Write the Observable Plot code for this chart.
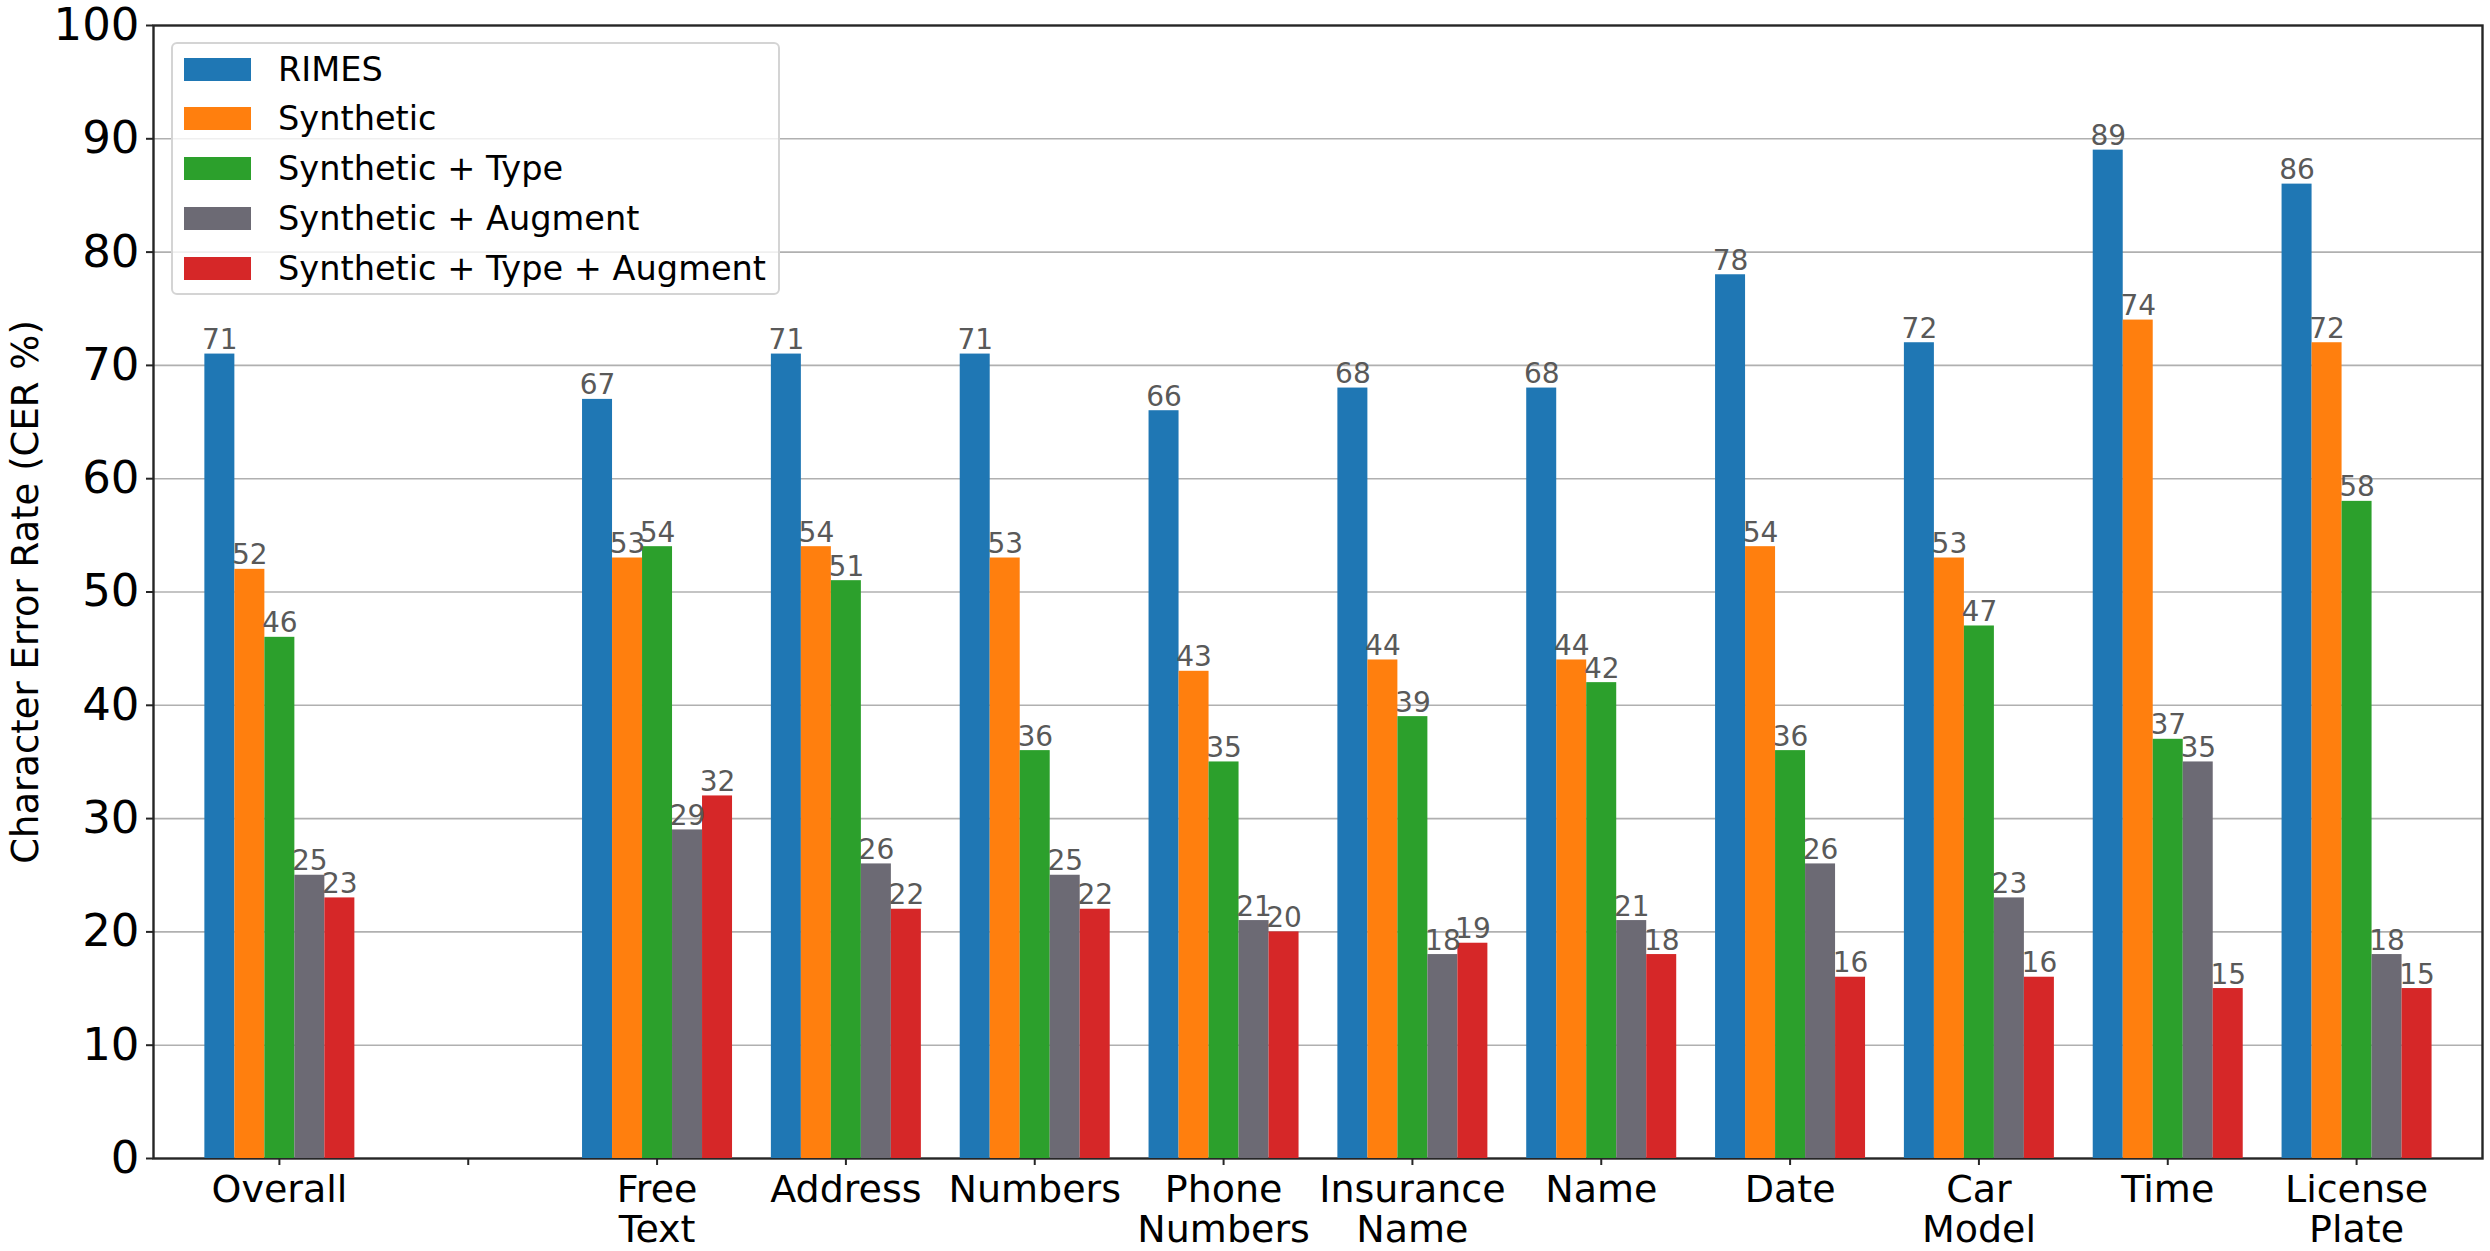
<!DOCTYPE html>
<html>
<head>
<meta charset="utf-8">
<script src="https://cdn.jsdelivr.net/npm/d3@7"></script>
<script src="https://cdn.jsdelivr.net/npm/@observablehq/plot@0.6"></script>
<style>
  html, body { margin: 0; padding: 0; background: #fff; }
  #chart { position: relative; width: 2490px; height: 1251px; font-family: "DejaVu Sans", sans-serif; }
  #chart svg { position: absolute; left: 0; top: 0; }
  #legend { position: absolute; left: 171px; top: 42px; width: 609px; height: 253px; box-sizing: border-box;
            border: 2px solid #d4d4d4; border-radius: 6px; background: rgba(255,255,255,0.8); }
  .item { position: absolute; left: 11px; height: 50px; display: flex; align-items: center;
          font-size: 33.6px; color: #000; white-space: nowrap; }
  .swatch { width: 67px; height: 23px; margin-right: 27px; }
</style>
</head>
<body>
<div id="chart"></div>
<script>
// ---- data ----
const categories = ["Overall", "", "Free Text", "Address", "Numbers", "Phone Numbers", "Insurance Name", "Name", "Date", "Car Model", "Time", "License Plate"];
const tickLabels = ["Overall", "", "Free\nText", "Address", "Numbers", "Phone\nNumbers", "Insurance\nName", "Name", "Date", "Car\nModel", "Time", "License\nPlate"];
const seriesNames = ["RIMES", "Synthetic", "Synthetic + Type", "Synthetic + Augment", "Synthetic + Type + Augment"];
const seriesColors = ["#1f77b4", "#ff7f0e", "#2ca02c", "#6c6a74", "#d62728"];
const rimes                = [71, null, 67, 71, 71, 66, 68, 68, 78, 72, 89, 86];
const synthetic            = [52, null, 53, 54, 53, 43, 44, 44, 54, 53, 74, 72];
const syntheticType        = [46, null, 54, 51, 36, 35, 39, 42, 36, 47, 37, 58];
const syntheticAugment     = [25, null, 29, 26, 25, 21, 18, 21, 26, 23, 35, 18];
const syntheticTypeAugment = [23, null, 32, 22, 22, 20, 19, 18, 16, 16, 15, 15];
const yTicks = [0, 10, 20, 30, 40, 50, 60, 70, 80, 90, 100];
const yLabel = "Character Error Rate (CER %)";

const seriesValues = [rimes, synthetic, syntheticType, syntheticAugment, syntheticTypeAugment];
const rows = [];
categories.forEach((c, i) => {
  seriesNames.forEach((s, j) => {
    rows.push({category: c, series: s, value: seriesValues[j][i]});
  });
});

// ---- layout ----
const W = 2490, H = 1251;
const margins = {marginLeft: 153, marginRight: 8, marginTop: 25, marginBottom: 93};
const font = "DejaVu Sans";

// background: grid, y axis, frame
const bg = Plot.plot({
  width: W, height: H, ...margins,
  style: {fontFamily: font, background: "white", color: "black", overflow: "visible"},
  x: {domain: [0, 1], axis: null},
  y: {domain: [0, 100], axis: null},
  marks: [
    Plot.ruleY(yTicks.filter(t => t > 0 && t < 100), {stroke: "#b0b0b0", strokeWidth: 1.6}),
    Plot.axisY({ticks: yTicks, tickSize: 7, tickPadding: 7, fontSize: 45, strokeWidth: 2, stroke: "#262626", label: null}),
    Plot.axisY({ticks: [], tickSize: 0, label: yLabel, labelAnchor: "center", labelArrow: "none", labelOffset: 142, fontSize: 37}),
    Plot.frame({stroke: "#262626", strokeWidth: 2.4})
  ]
});

// foreground: grouped bars, value labels, category axis
const fg = Plot.plot({
  width: W, height: H, ...margins,
  style: {fontFamily: font, background: "transparent", color: "black", overflow: "visible"},
  fx: {domain: categories, paddingInner: 0.2, paddingOuter: 0.2667, round: false, label: null},
  x: {domain: seriesNames, padding: 0, axis: null},
  y: {domain: [0, 100], axis: null},
  color: {domain: seriesNames, range: seriesColors},
  marks: [
    Plot.barY(rows, {fx: "category", x: "series", y: "value", fill: "series"}),
    Plot.text(rows, {fx: "category", x: "series", y: "value", filter: d => d.value != null,
                     text: d => String(d.value), lineAnchor: "bottom", dy: -5, fill: "#595959", fontSize: 28}),
    Plot.axisFx({anchor: "bottom", tickSize: 7, tickPadding: 8, fontSize: 38, lineHeight: 1.05, strokeWidth: 2, stroke: "#262626",
                 tickFormat: d => tickLabels[categories.indexOf(d)], label: null})
  ]
});

const chart = document.getElementById("chart");
chart.appendChild(bg);
chart.appendChild(fg);

// legend (inside the axes, upper left)
const legend = document.createElement("div");
legend.id = "legend";
seriesNames.forEach((s, i) => {
  const item = document.createElement("div");
  item.className = "item";
  item.style.top = (i * 49.75) + "px";
  const sw = document.createElement("div");
  sw.className = "swatch";
  sw.style.background = seriesColors[i];
  const t = document.createElement("span");
  t.textContent = s;
  item.appendChild(sw);
  item.appendChild(t);
  legend.appendChild(item);
});
chart.appendChild(legend);
</script>
</body>
</html>
